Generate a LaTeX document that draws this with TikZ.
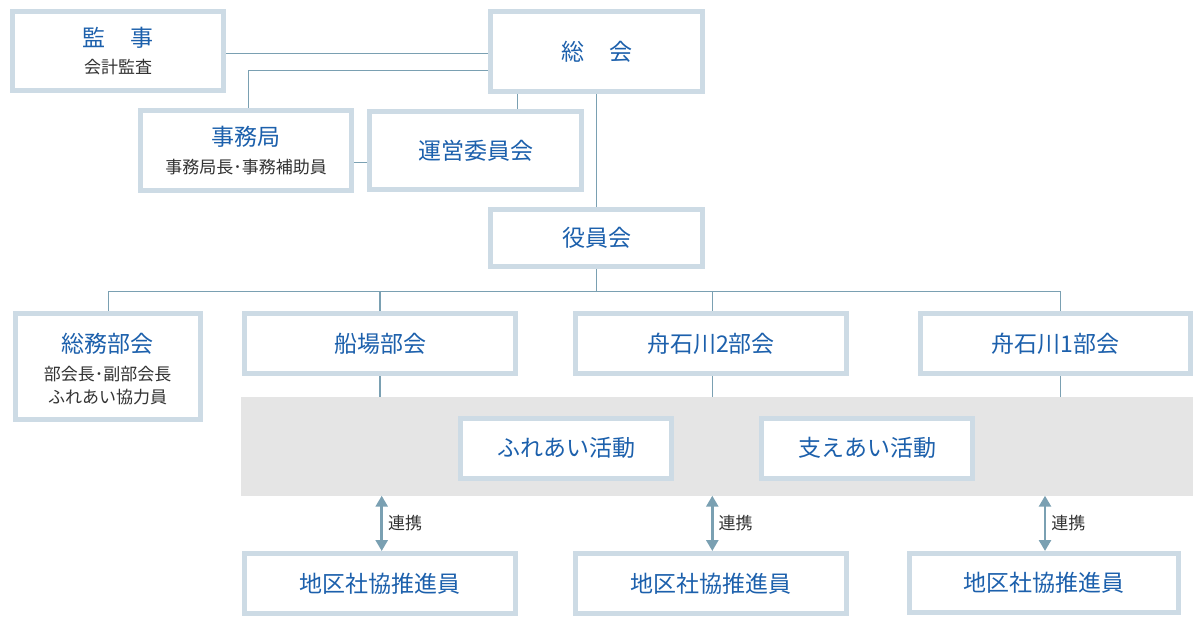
\documentclass[tikz,border=0pt]{standalone}
\usepackage{fontspec}
\setmainfont{Noto Sans CJK JP}
\usetikzlibrary{arrows.meta,backgrounds}
\definecolor{bordercol}{RGB}{205,219,229}
\definecolor{linecol}{RGB}{122,160,178}
\definecolor{titlecol}{RGB}{28,96,172}
\definecolor{subcol}{RGB}{51,51,51}
\definecolor{bandcol}{RGB}{229,229,229}
\newcommand\myttlfont{\fontsize{23}{27}\selectfont}
\newcommand\mysubfont{\fontsize{17}{20}\selectfont}
\tikzset{
  box/.style={draw=bordercol, line width=5pt, fill=white, inner sep=0pt, outer sep=2.5pt, font=\myttlfont, text=titlecol},
  ttl/.style={font=\myttlfont, text=titlecol, inner sep=0pt},
  sub/.style={font=\mysubfont, text=subcol, inner sep=0pt},
  bandbox/.style={fill=bandcol, draw=none, inner sep=0pt, outer sep=0pt},
  conn/.style={draw=linecol, line width=1.3pt},
  link/.style={draw=linecol, line width=2.6pt, {Triangle[width=12pt,length=11pt]}-{Triangle[width=12pt,length=11pt]}},
}
\begin{document}
\begin{tikzpicture}[x=1pt,y=-1pt]
\useasboundingbox (0,0) rectangle (1200,625);
% band
\node[bandbox, minimum width=952pt, minimum height=98.4pt] (band) at (716.7,446.5) {};
% top
\node[box, minimum width=211pt, minimum height=79pt] (kanji) at (118,51) {};
\node[ttl] (kanjiT) at (118,38) {監\hspace{1.1em}事};
\node[sub] (kanjiS) at (118,67.5) {会計監査};
\node[box, minimum width=211.7pt, minimum height=80pt] (soukai) at (596.7,51.8) {総\hspace{1.1em}会};
\node[box, minimum width=210.7pt, minimum height=79.4pt] (jimu) at (246.2,150.5) {};
\node[ttl] (jimuT) at (246.2,136.5) {事務局};
\node[sub] (jimuS) at (246.2,167.5) {事務局長･事務補助員};
\node[box, minimum width=212pt, minimum height=78.3pt] (unei) at (475.8,150.7) {運営委員会};
\node[box, minimum width=211.7pt, minimum height=57.6pt] (yakuin) at (596.7,238) {役員会};
% bukai
\node[box, minimum width=185pt, minimum height=105.7pt] (soumu) at (107.7,366.3) {};
\node[ttl] (soumuT) at (107.7,344) {総務部会};
\node[sub] (soumuS1) at (107.7,374) {部会長･副部会長};
\node[sub] (soumuS2) at (107.7,397.5) {ふれあい協力員};
\node[box, minimum width=270.4pt, minimum height=60pt] (senba) at (380,343.5) {船場部会};
\node[box, minimum width=270.4pt, minimum height=60pt] (fune2) at (711,343.5) {舟石川2部会};
\node[box, minimum width=270pt, minimum height=60pt] (fune1) at (1055.8,343.5) {舟石川1部会};
% activities
\node[box, minimum width=210.7pt, minimum height=59.7pt] (fureai) at (566.2,448.3) {ふれあい活動};
\node[box, minimum width=211pt, minimum height=60pt] (sasae) at (867,448.2) {支えあい活動};
% chiku
\node[box, minimum width=270.4pt, minimum height=60pt] (chiku1) at (380,583.5) {地区社協推進員};
\node[box, minimum width=270.4pt, minimum height=60pt] (chiku2) at (711,583.5) {地区社協推進員};
\node[box, minimum width=269.3pt, minimum height=59pt] (chiku3) at (1043.8,583) {地区社協推進員};
% coordinates
\coordinate (jx) at (248.3,70.7);
\coordinate (ux) at (517.7,0);
\coordinate (jy) at (0,162.3);
\coordinate (bus) at (0,291.7);
\coordinate (x1) at (108.3,0);
\coordinate (x2) at (380,0);
\coordinate (x3) at (712.3,0);
\coordinate (x4) at (1060.7,0);
\coordinate (a1) at (381.7,0);
\coordinate (a2) at (712.3,0);
\coordinate (a3) at (1045,0);
\begin{scope}[on background layer]
\draw[conn] ([yshift=-2.3pt]kanji.east) -- ([yshift=-2.3pt]kanji.east -| soukai.west);
\draw[conn] (soukai.west |- jx) -| (jimu.north -| jx);
\draw[conn] (soukai.south -| ux) -- (unei.north -| ux);
\draw[conn] (jimu.east |- jy) -- (unei.west |- jy);
\draw[conn] (soukai.south) -- (yakuin.north);
\draw[conn] (yakuin.south) -- (yakuin.south |- bus);
\draw[conn] (x1 |- bus) -- (x4 |- bus);
\draw[conn] (x1 |- bus) -- (soumu.north -| x1);
\draw[conn] (x2 |- bus) -- (senba.north -| x2);
\draw[conn] (x3 |- bus) -- (fune2.north -| x3);
\draw[conn] (x4 |- bus) -- (fune1.north -| x4);
\draw[conn] (senba.south -| x2) -- (band.north -| x2);
\draw[conn] (fune2.south -| x3) -- (band.north -| x3);
\draw[conn] (fune1.south -| x4) -- (band.north -| x4);
\end{scope}
\draw[link] (band.south -| a1) -- (chiku1.north -| a1) node[midway, right, sub, xshift=5pt] (l1) {連携};
\draw[link] (band.south -| a2) -- (chiku2.north -| a2) node[midway, right, sub, xshift=5pt] (l2) {連携};
\draw[link] (band.south -| a3) -- (chiku3.north -| a3) node[midway, right, sub, xshift=5pt] (l3) {連携};
\end{tikzpicture}
\end{document}
